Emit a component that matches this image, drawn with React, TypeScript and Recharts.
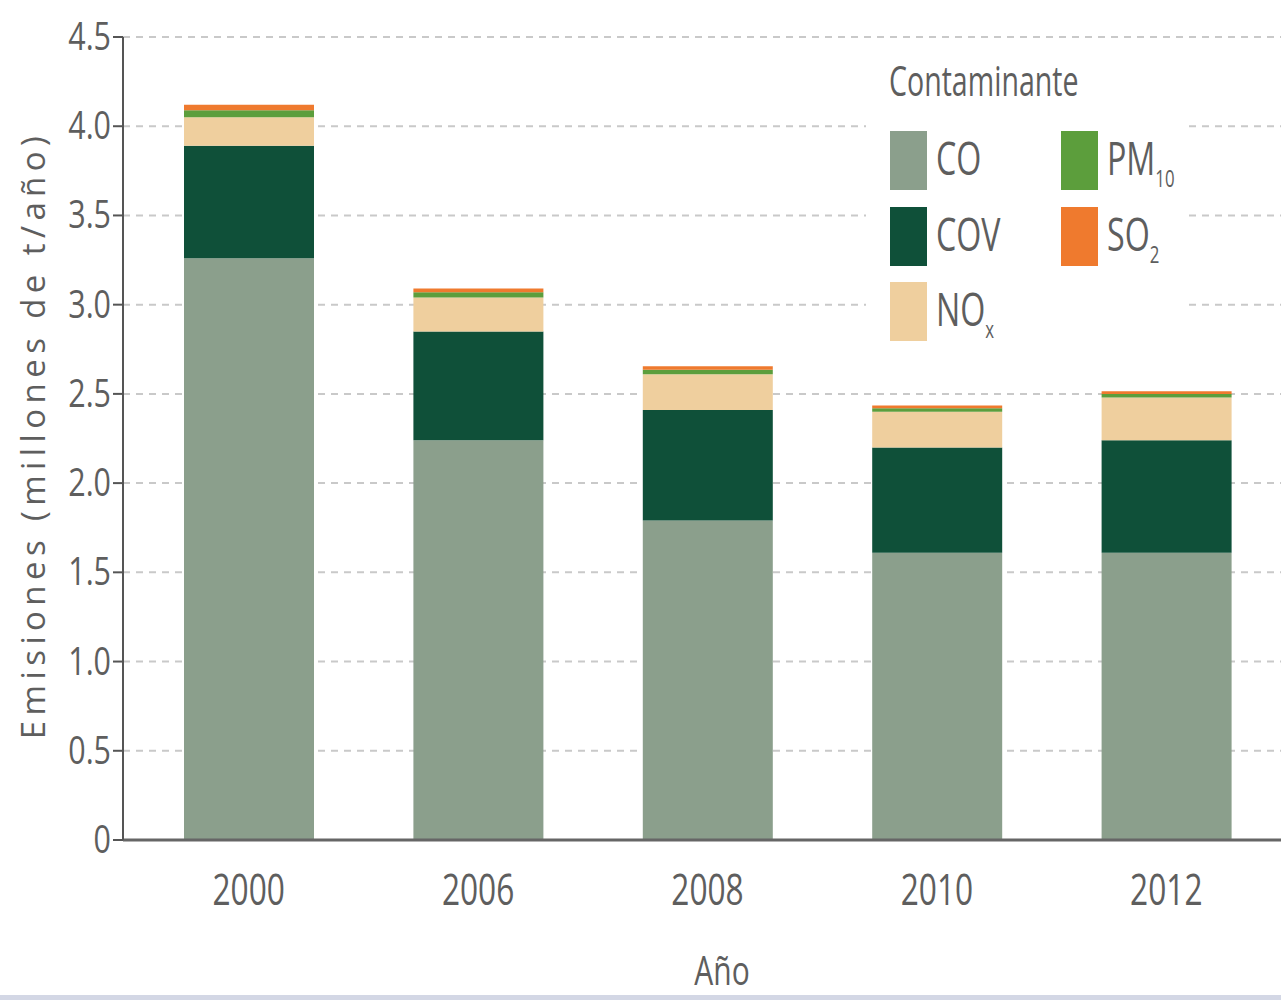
import { BarChart, Bar, XAxis, YAxis, CartesianGrid, Label } from 'recharts'

const years = ['2000', '2006', '2008', '2010', '2012']
const co = [3.26, 2.24, 1.79, 1.61, 1.61]
const cov = [0.63, 0.61, 0.62, 0.59, 0.63]
const nox = [0.16, 0.19, 0.2, 0.2, 0.24]
const pm10 = [0.04, 0.03, 0.025, 0.02, 0.02]
const so2 = [0.03, 0.02, 0.02, 0.015, 0.015]
const yTicks = [0, 0.5, 1, 1.5, 2, 2.5, 3, 3.5, 4, 4.5]

const COLORS = {
  co: '#8b9f8c',
  cov: '#0f5039',
  nox: '#efcf9e',
  pm10: '#5c9e3c',
  so2: '#ef7a2e',
}

const FONT = '"Open Sans", sans-serif'
const TEXT = '#5e5e5e'

const data = years.map((year, i) => ({
  year,
  co: co[i],
  cov: cov[i],
  nox: nox[i],
  pm10: pm10[i],
  so2: so2[i],
}))

// narrow text: the reference uses a condensed face, so squeeze horizontally
function NarrowText({ x, y, anchor, size, sx, children }: any) {
  return (
    <text
      transform={`translate(${x},${y}) scale(${sx},1)`}
      textAnchor={anchor}
      fill={TEXT}
      fontSize={size}
      fontFamily={FONT}
    >
      {children}
    </text>
  )
}

function XTick({ x, y, payload }: any) {
  return (
    <NarrowText x={x} y={y + 57} anchor="middle" size={44} sx={0.72}>
      {payload.value}
    </NarrowText>
  )
}

function YTick({ x, y, payload }: any) {
  const v = payload.value
  return (
    <NarrowText x={x} y={y + 13} anchor="end" size={38} sx={0.8}>
      {v === 0 ? '0' : v.toFixed(1)}
    </NarrowText>
  )
}

const squeeze = (sx: number) => ({
  display: 'inline-block',
  transform: `scaleX(${sx})`,
  transformOrigin: 'left center',
  whiteSpace: 'nowrap' as const,
})

function LegendItem({ left, top, color, label, sub }: any) {
  return (
    <>
      <div style={{ position: 'absolute', left, top, width: 37, height: 59, background: color }} />
      <div
        style={{
          position: 'absolute',
          left: left + 46,
          top: top - 5,
          fontSize: 46,
          lineHeight: '62px',
          color: TEXT,
          fontFamily: FONT,
        }}
      >
        <span style={squeeze(0.7)}>
          {label}
          {sub && <sub style={{ fontSize: 24, verticalAlign: '-12px' }}>{sub}</sub>}
        </span>
      </div>
    </>
  )
}

export default function App() {
  return (
    <div style={{ position: 'absolute', left: 0, top: 0, width: 1281, height: 1000, background: '#fff', overflow: 'hidden' }}>
      <BarChart
        width={1281}
        height={1000}
        data={data}
        margin={{ top: 37, right: 0, bottom: 0, left: 0 }}
        barCategoryGap={0}
      >
        <CartesianGrid vertical={false} stroke="#c9c9c9" strokeWidth={2} strokeDasharray="7 6" />
        <XAxis
          dataKey="year"
          padding={{ left: 11, right: 0 }}
          axisLine={{ stroke: '#666', strokeWidth: 3 }}
          tickLine={false}
          tick={<XTick />}
          height={160}
        >
          <Label
            content={() => (
              <NarrowText x={722} y={985} anchor="middle" size={40} sx={0.75}>
                Año
              </NarrowText>
            )}
          />
        </XAxis>
        <YAxis
          width={123}
          domain={[0, 4.5]}
          ticks={yTicks}
          interval={0}
          axisLine={{ stroke: '#555', strokeWidth: 2 }}
          tickLine={{ stroke: '#555', strokeWidth: 2 }}
          tickSize={10}
          tick={<YTick />}
        >
          <Label
            content={() => (
              <text
                x={45}
                y={435}
                transform="rotate(-90, 45, 435)"
                textAnchor="middle"
                fill={TEXT}
                fontSize={33}
                fontFamily={FONT}
                letterSpacing={5.4}
              >
                Emisiones (millones de t/año)
              </text>
            )}
          />
        </YAxis>
        <Bar dataKey="co" stackId="a" fill={COLORS.co} barSize={130} isAnimationActive={false} />
        <Bar dataKey="cov" stackId="a" fill={COLORS.cov} barSize={130} isAnimationActive={false} />
        <Bar dataKey="nox" stackId="a" fill={COLORS.nox} barSize={130} isAnimationActive={false} />
        <Bar dataKey="pm10" stackId="a" fill={COLORS.pm10} barSize={130} isAnimationActive={false} />
        <Bar dataKey="so2" stackId="a" fill={COLORS.so2} barSize={130} isAnimationActive={false} />
      </BarChart>

      <div style={{ position: 'absolute', left: 866, top: 52, width: 322, height: 298, background: '#fff' }} />
      <div
        style={{
          position: 'absolute',
          left: 889,
          top: 52,
          fontSize: 42,
          lineHeight: '56px',
          color: TEXT,
          fontFamily: FONT,
        }}
      >
        <span style={squeeze(0.68)}>Contaminante</span>
      </div>
      <LegendItem left={890} top={131} color={COLORS.co} label="CO" />
      <LegendItem left={890} top={207} color={COLORS.cov} label="COV" />
      <LegendItem left={890} top={282} color={COLORS.nox} label="NO" sub="x" />
      <LegendItem left={1061} top={131} color={COLORS.pm10} label="PM" sub="10" />
      <LegendItem left={1061} top={207} color={COLORS.so2} label="SO" sub="2" />

      <div style={{ position: 'absolute', left: 0, top: 995, width: 1281, height: 5, background: '#d3d7e5' }} />
    </div>
  )
}
